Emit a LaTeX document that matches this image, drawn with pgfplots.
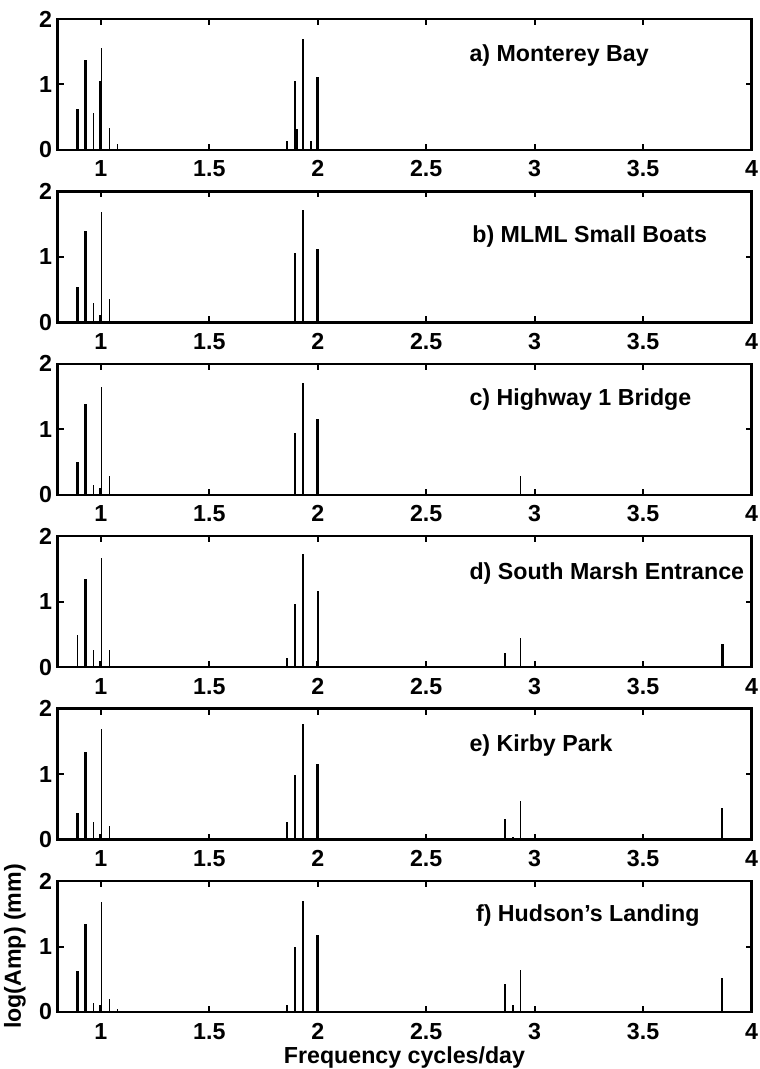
\documentclass[border=0pt]{standalone}
\usepackage{fontspec}
\setmainfont{Liberation Sans}
\usepackage{pgfplots}
\pgfplotsset{compat=1.18}
\usepgfplotslibrary{groupplots}
\tikzset{lab/.style={anchor=base west, inner sep=0pt, font=\fontsize{11.6}{14}\selectfont\bfseries}}
\pgfplotsset{
  thick bar/.style={ycomb, black, line width=1.5pt, no marks},
  thin bar/.style={ycomb, black, line width=0.75pt, no marks},
}

\begin{document}
\fontsize{11.6}{14}\selectfont\bfseries
\begin{tikzpicture}
\begin{groupplot}[
  group style={group size=1 by 6, vertical sep=20.7pt},
  width=347pt, height=65.5pt, scale only axis,
  xmin=0.8, xmax=4, ymin=0, ymax=2,
  xtick={1,1.5,2,2.5,3,3.5,4}, ytick={0,1,2},
  tick align=inside, major tick length=3pt,
  every tick/.style={black, line width=1pt},
  axis line style={line width=1.2pt},
  /pgf/number format/assume math mode=true,
  tick label style={font=\fontsize{11.6}{14}\selectfont\bfseries},
  xticklabel style={anchor=base, yshift=-13.5pt, inner sep=0pt},
  yticklabel style={anchor=east, inner sep=0pt, xshift=-2.5pt},
]
% a) Monterey Bay
\nextgroupplot
\coordinate (tl) at (rel axis cs:0,1);
\addplot[thick bar] coordinates {(0.893,0.62) (0.930,1.37) (0.997,1.05) (1.900,0.32) (2.000,1.12)};
\addplot[thin bar] coordinates {(0.966,0.56) (1.003,1.55) (1.039,0.33) (1.076,0.09) (1.859,0.14) (1.896,1.06) (1.932,1.70) (1.968,0.14)};
\node[lab] at (axis cs:2.698,1.348) {a) Monterey Bay};
% b) MLML Small Boats
\nextgroupplot
\addplot[thick bar] coordinates {(0.893,0.54) (0.930,1.39) (0.997,0.12) (2.000,1.12)};
\addplot[thin bar] coordinates {(0.966,0.30) (1.003,1.68) (1.039,0.36) (1.896,1.06) (1.932,1.71)};
\node[lab] at (axis cs:2.711,1.226) {b) MLML Small Boats};
% c) Highway 1 Bridge
\nextgroupplot
\addplot[thick bar] coordinates {(0.893,0.50) (0.930,1.38) (0.997,0.11) (2.000,1.15)};
\addplot[thin bar] coordinates {(0.966,0.15) (1.003,1.65) (1.039,0.29) (1.896,0.94) (1.932,1.71) (2.935,0.29)};
\node[lab] at (axis cs:2.698,1.37) {c) Highway 1 Bridge};
% d) South Marsh Entrance
\nextgroupplot
\addplot[thick bar] coordinates {(0.930,1.35) (0.997,0.10) (1.997,0.10) (3.864,0.36)};
\addplot[thin bar] coordinates {(0.893,0.49) (0.966,0.26) (1.003,1.67) (1.039,0.26) (1.859,0.14) (1.896,0.96) (1.932,1.73) (2.002,1.17) (2.864,0.22) (2.935,0.45)};
\node[lab] at (axis cs:2.698,1.334) {d) South Marsh Entrance};
% e) Kirby Park
\nextgroupplot
\addplot[thick bar] coordinates {(0.893,0.41) (0.930,1.34) (0.997,0.09) (2.000,1.16)};
\addplot[thin bar] coordinates {(0.966,0.27) (1.003,1.69) (1.039,0.21) (1.859,0.27) (1.896,0.98) (1.932,1.76) (2.864,0.32) (2.900,0.04) (2.935,0.59) (3.864,0.48)};
\node[lab] at (axis cs:2.698,1.352) {e) Kirby Park};
% f) Hudson's Landing
\nextgroupplot[
  xlabel={Frequency cycles/day},
  xlabel style={at={(rel axis cs:0.5,0)}, anchor=base, yshift=-25.7pt, font=\fontsize{11.6}{14}\selectfont\bfseries},
  ylabel={log(Amp) (mm)},
  ylabel style={at={(rel axis cs:-0.0612,0.5)}, anchor=center, font=\fontsize{11.6}{14}\selectfont\bfseries},
]
\addplot[thick bar] coordinates {(0.893,0.62) (0.930,1.35) (0.997,0.11) (2.000,1.17)};
\addplot[thin bar] coordinates {(0.966,0.14) (1.003,1.68) (1.039,0.20) (1.076,0.05) (1.859,0.11) (1.896,0.99) (1.932,1.70) (2.864,0.43) (2.900,0.11) (2.935,0.64) (3.864,0.52)};
\node[lab] at (axis cs:2.728,1.38) {f) Hudson's Landing};
\end{groupplot}
\pgfresetboundingbox
\path[use as bounding box] ([shift={(-28.75pt,9.5pt)}]tl) rectangle ([shift={(350.75pt,-525pt)}]tl);
\end{tikzpicture}
\end{document}
